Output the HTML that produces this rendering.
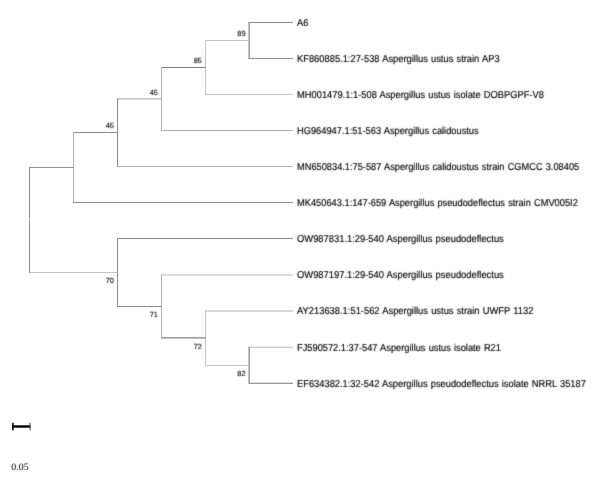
<!DOCTYPE html>
<html><head><meta charset="utf-8"><title>tree</title>
<style>
html,body{margin:0;padding:0;background:#fff;}
body{width:601px;height:477px;overflow:hidden;}
svg{display:block}
text{text-rendering:geometricPrecision;}
.lb{font-family:"Liberation Sans",sans-serif;font-size:10px;fill:#000;stroke:#000;stroke-width:0.15px;word-spacing:0.6px;}
.nd{font-family:"Liberation Sans",sans-serif;font-size:7.4px;fill:#000;stroke:#000;stroke-width:0.1px;}
.sc{font-family:"Liberation Serif",serif;font-size:9.9px;fill:#000;}
</style></head><body>
<svg width="601" height="477" viewBox="0 0 601 477">
<defs><filter id="bl" x="0" y="0" width="601" height="477" filterUnits="userSpaceOnUse"><feConvolveMatrix order="3" kernelMatrix="0.02 0.09 0.02 0.09 0.56 0.09 0.02 0.09 0.02" preserveAlpha="false" edgeMode="none"/></filter><filter id="nf" x="0" y="0" width="601" height="477" filterUnits="userSpaceOnUse"><feConvolveMatrix order="3" kernelMatrix="0.01 0.06 0.01 0.06 0.8 0.06 0.01 0.06 0.01" preserveAlpha="false" edgeMode="none"/></filter></defs>
<rect width="601" height="477" fill="#fff"/>
<g fill="none">
<line x1="248.70" y1="22.50" x2="292.80" y2="22.50" stroke="#8c8c8c" stroke-width="1"/>
<line x1="248.70" y1="58.50" x2="292.80" y2="58.50" stroke="#8c8c8c" stroke-width="1"/>
<line x1="249.20" y1="22.00" x2="249.20" y2="59.00" stroke="#a0a0a0" stroke-width="1.7"/>
<line x1="205.00" y1="40.50" x2="249.20" y2="40.50" stroke="#c4c4c4" stroke-width="1"/>
<line x1="205.50" y1="40.00" x2="205.50" y2="95.00" stroke="#c4c4c4" stroke-width="1"/>
<line x1="205.00" y1="94.50" x2="292.80" y2="94.50" stroke="#c4c4c4" stroke-width="1"/>
<line x1="161.00" y1="67.50" x2="205.50" y2="67.50" stroke="#7c7c7c" stroke-width="1"/>
<line x1="161.50" y1="67.00" x2="161.50" y2="131.00" stroke="#b0b0b0" stroke-width="1"/>
<line x1="161.00" y1="130.50" x2="292.80" y2="130.50" stroke="#b0b0b0" stroke-width="1"/>
<line x1="117.00" y1="98.90" x2="161.50" y2="98.90" stroke="#b4b4b4" stroke-width="1.3"/>
<line x1="117.50" y1="98.40" x2="117.50" y2="167.00" stroke="#8c8c8c" stroke-width="1"/>
<line x1="117.00" y1="166.50" x2="292.80" y2="166.50" stroke="#b0b0b0" stroke-width="1"/>
<line x1="73.00" y1="132.50" x2="117.50" y2="132.50" stroke="#8c8c8c" stroke-width="1"/>
<line x1="73.50" y1="132.00" x2="73.50" y2="203.00" stroke="#b0b0b0" stroke-width="1"/>
<line x1="73.00" y1="202.50" x2="292.80" y2="202.50" stroke="#8c8c8c" stroke-width="1"/>
<line x1="29.00" y1="167.50" x2="73.50" y2="167.50" stroke="#909090" stroke-width="1"/>
<line x1="248.70" y1="347.20" x2="292.80" y2="347.20" stroke="#b4b4b4" stroke-width="1"/>
<line x1="248.70" y1="383.30" x2="292.80" y2="383.30" stroke="#7c7c7c" stroke-width="1"/>
<line x1="249.20" y1="346.70" x2="249.20" y2="383.80" stroke="#a0a0a0" stroke-width="1.7"/>
<line x1="205.00" y1="365.40" x2="249.20" y2="365.40" stroke="#c4c4c4" stroke-width="1"/>
<line x1="205.50" y1="310.50" x2="205.50" y2="365.90" stroke="#c4c4c4" stroke-width="1"/>
<line x1="205.00" y1="311.00" x2="292.80" y2="311.00" stroke="#b4b4b4" stroke-width="1"/>
<line x1="161.00" y1="337.80" x2="205.50" y2="337.80" stroke="#808080" stroke-width="1.2"/>
<line x1="161.50" y1="274.50" x2="161.50" y2="338.30" stroke="#b0b0b0" stroke-width="1"/>
<line x1="161.00" y1="275.00" x2="292.80" y2="275.00" stroke="#b8b8b8" stroke-width="1"/>
<line x1="117.00" y1="306.50" x2="161.50" y2="306.50" stroke="#8c8c8c" stroke-width="1"/>
<line x1="117.50" y1="238.00" x2="117.50" y2="307.00" stroke="#8e8e8e" stroke-width="1"/>
<line x1="117.00" y1="238.50" x2="292.80" y2="238.50" stroke="#8c8c8c" stroke-width="1"/>
<line x1="29.00" y1="272.50" x2="117.50" y2="272.50" stroke="#c4c4c4" stroke-width="1"/>
<line x1="29.50" y1="167.00" x2="29.50" y2="219.00" stroke="#909090" stroke-width="1"/>
<line x1="29.50" y1="220.00" x2="29.50" y2="273.00" stroke="#909090" stroke-width="1"/>
</g>
<line x1="12.1" y1="426.5" x2="30.6" y2="426.5" stroke="#000" stroke-width="2.4"/><line x1="12.9" y1="422.7" x2="12.9" y2="430.3" stroke="#000" stroke-width="1.6"/><line x1="30.1" y1="422.7" x2="30.1" y2="430.3" stroke="#555" stroke-width="1.1"/>
<g filter="url(#bl)">
<text transform="translate(297,25.80) scale(0.9280,1)" class="lb">A6</text>
<text transform="translate(297,61.80) scale(0.9336,1)" class="lb">KF860885.1:27-538 Aspergillus ustus strain AP3</text>
<text transform="translate(297,97.80) scale(0.9326,1)" class="lb">MH001479.1:1-508 Aspergillus ustus isolate DOBPGPF-V8</text>
<text transform="translate(297,133.80) scale(0.9280,1)" class="lb">HG964947.1:51-563 Aspergillus calidoustus</text>
<text transform="translate(297,169.80) scale(0.9257,1)" class="lb">MN650834.1:75-587 Aspergillus calidoustus strain CGMCC 3.08405</text>
<text transform="translate(297,205.80) scale(0.9280,1)" class="lb">MK450643.1:147-659 Aspergillus pseudodeflectus strain CMV005I2</text>
<text transform="translate(297,241.80) scale(0.9366,1)" class="lb">OW987831.1:29-540 Aspergillus pseudodeflectus</text>
<text transform="translate(297,278.30) scale(0.9366,1)" class="lb">OW987197.1:29-540 Aspergillus pseudodeflectus</text>
<text transform="translate(297,314.30) scale(0.9359,1)" class="lb">AY213638.1:51-562 Aspergillus ustus strain UWFP 1132</text>
<text transform="translate(297,350.50) scale(0.9280,1)" class="lb">FJ590572.1:37-547 Aspergillus ustus isolate R21</text>
<text transform="translate(297,386.60) scale(0.9317,1)" class="lb">EF634382.1:32-542 Aspergillus pseudodeflectus isolate NRRL 35187</text>
<text x="245.60" y="36.30" class="nd" text-anchor="end">89</text>
<text x="201.90" y="63.30" class="nd" text-anchor="end">85</text>
<text x="157.90" y="94.70" class="nd" text-anchor="end">45</text>
<text x="113.90" y="128.30" class="nd" text-anchor="end">45</text>
<text x="245.60" y="376.30" class="nd" text-anchor="end">82</text>
<text x="201.90" y="348.70" class="nd" text-anchor="end">72</text>
<text x="157.90" y="317.40" class="nd" text-anchor="end">71</text>
<text x="113.90" y="283.40" class="nd" text-anchor="end">70</text>
</g>
<g filter="url(#nf)"><text x="11.3" y="470.2" class="sc">0.05</text></g>
</svg>
</body></html>
